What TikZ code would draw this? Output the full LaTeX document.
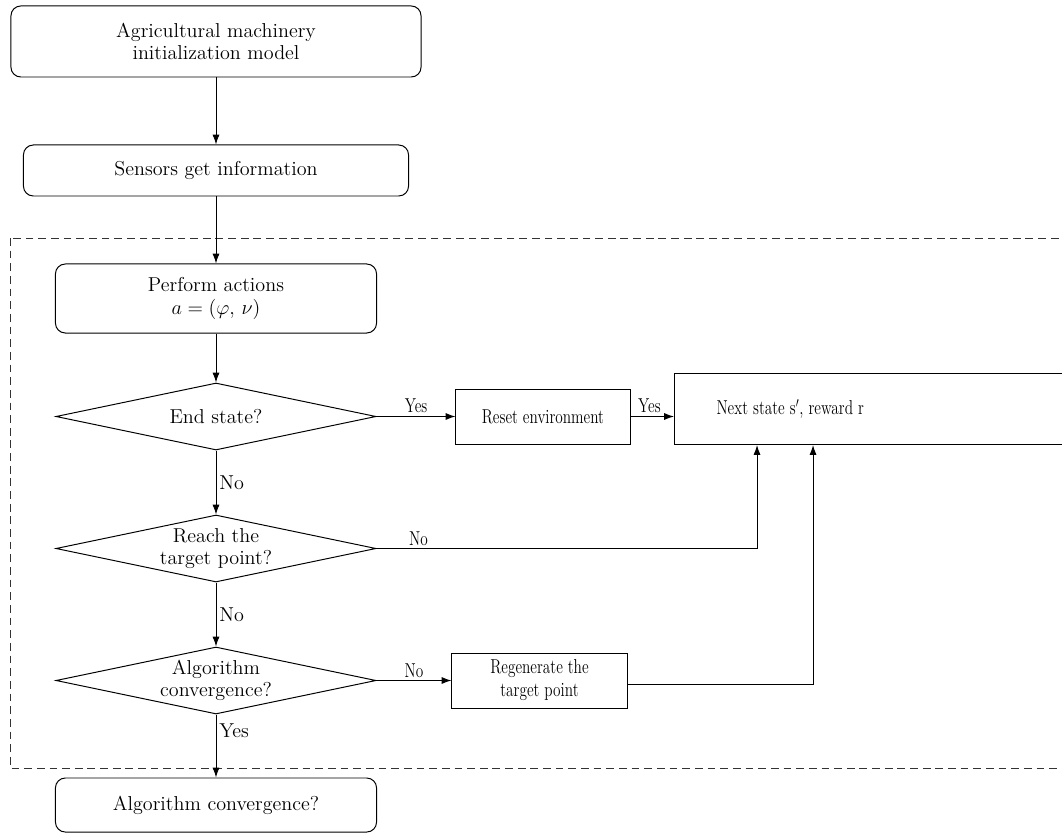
\documentclass[tikz,border=0pt]{standalone}
\usepackage{amsmath,amssymb}
\usetikzlibrary{arrows.meta,positioning,shapes}
\newcommand{\narrow}[1]{\scalebox{0.76}[1]{#1}}

\begin{document}
\begin{tikzpicture}[x=0.025cm,y=-0.025cm,every node/.style={font=\fontsize{14.3}{16}\selectfont},
      rbox/.style={draw,rounded corners=7pt,align=center,line width=0.7pt},
      pbox/.style={draw,align=center,line width=0.7pt},
      dbox/.style={draw,diamond,aspect=4.8,inner sep=0pt,align=center,line width=0.7pt,minimum width=8cm,minimum height=1.675cm},
      lbl/.style={inner sep=2pt},
      arr/.style={-{Latex[length=7pt,width=5pt]},line width=0.7pt}]
    \clip (0,0) rectangle (1062,833);
    % Loop frame
    \draw[dashed,dash pattern=on 5.5pt off 3.5pt,line width=0.7pt,black!80] (10,238) rectangle (1080,768);
    % Start
    \node[rbox,minimum width=10.25cm,minimum height=1.775cm] (init) at (216,41.5) {Agricultural machinery\\initialization model};
    \node[rbox,minimum width=9.625cm,minimum height=1.275cm] (sens) at (216,170.5) {Sensors get information};
    % Loop
    \node[rbox,minimum width=8.025cm,minimum height=1.725cm] (act) at (216,298.5) {Perform actions\\$a=(\varphi,\,\nu)$};
    \node[dbox] (endq) at (216,416.5) {End state?};
    \node[dbox] (tgtq) at (216,548.5) {Reach the\\target point?};
    \node[dbox] (algq) at (216,680.5) {Algorithm\\convergence?};
    \node[pbox,minimum width=4.35cm,minimum height=1.375cm] (reset) at (543,416.5) {\narrow{Reset environment}};
    \node[pbox,minimum width=4.375cm,minimum height=1.375cm] (regen) at (539.5,680.5)
      {\narrow{\begin{tabular}{@{}c@{}}Regenerate the\\target point\end{tabular}}};
    \node[pbox,anchor=north west,align=left,text width=8cm,inner xsep=1.05cm,minimum height=1.775cm] (next) at (674,373)
      {\narrow{Next state s$'$, reward r}};
    % End
    \node[rbox,minimum width=8.025cm,minimum height=1.35cm] (done) at (216,805) {Algorithm convergence?};
    % Main path
    \foreach \a/\b in {init/sens,sens/act,act/endq}{\draw[arr] (\a)--(\b);}
    \draw[arr] (endq) -- node[lbl,right] (no1) {No} (tgtq);
    \draw[arr] (tgtq) -- node[lbl,right] (no2) {No} (algq);
    \draw[arr] (algq) -- node[lbl,right,pos=0.25] (yes3) {Yes} (done);
    % Side paths
    \draw[arr] (endq) -- node[lbl,above] (yes1) {\narrow{Yes}} (reset);
    \draw[arr] (reset) -- node[lbl,above,xshift=-2pt] (yes2) {\narrow{Yes}} (next.west |- reset);
    \draw[arr] (tgtq.east) -| node[lbl,above,pos=0.055] (no3) {\narrow{No}} ([xshift=2.075cm]next.south west);
    \draw[arr] (algq) -- node[lbl,above] (no4) {\narrow{No}} (regen);
    \draw[arr] ([yshift=-3pt]regen.east) -| ([xshift=3.475cm]next.south west);
  \end{tikzpicture}
\end{document}
